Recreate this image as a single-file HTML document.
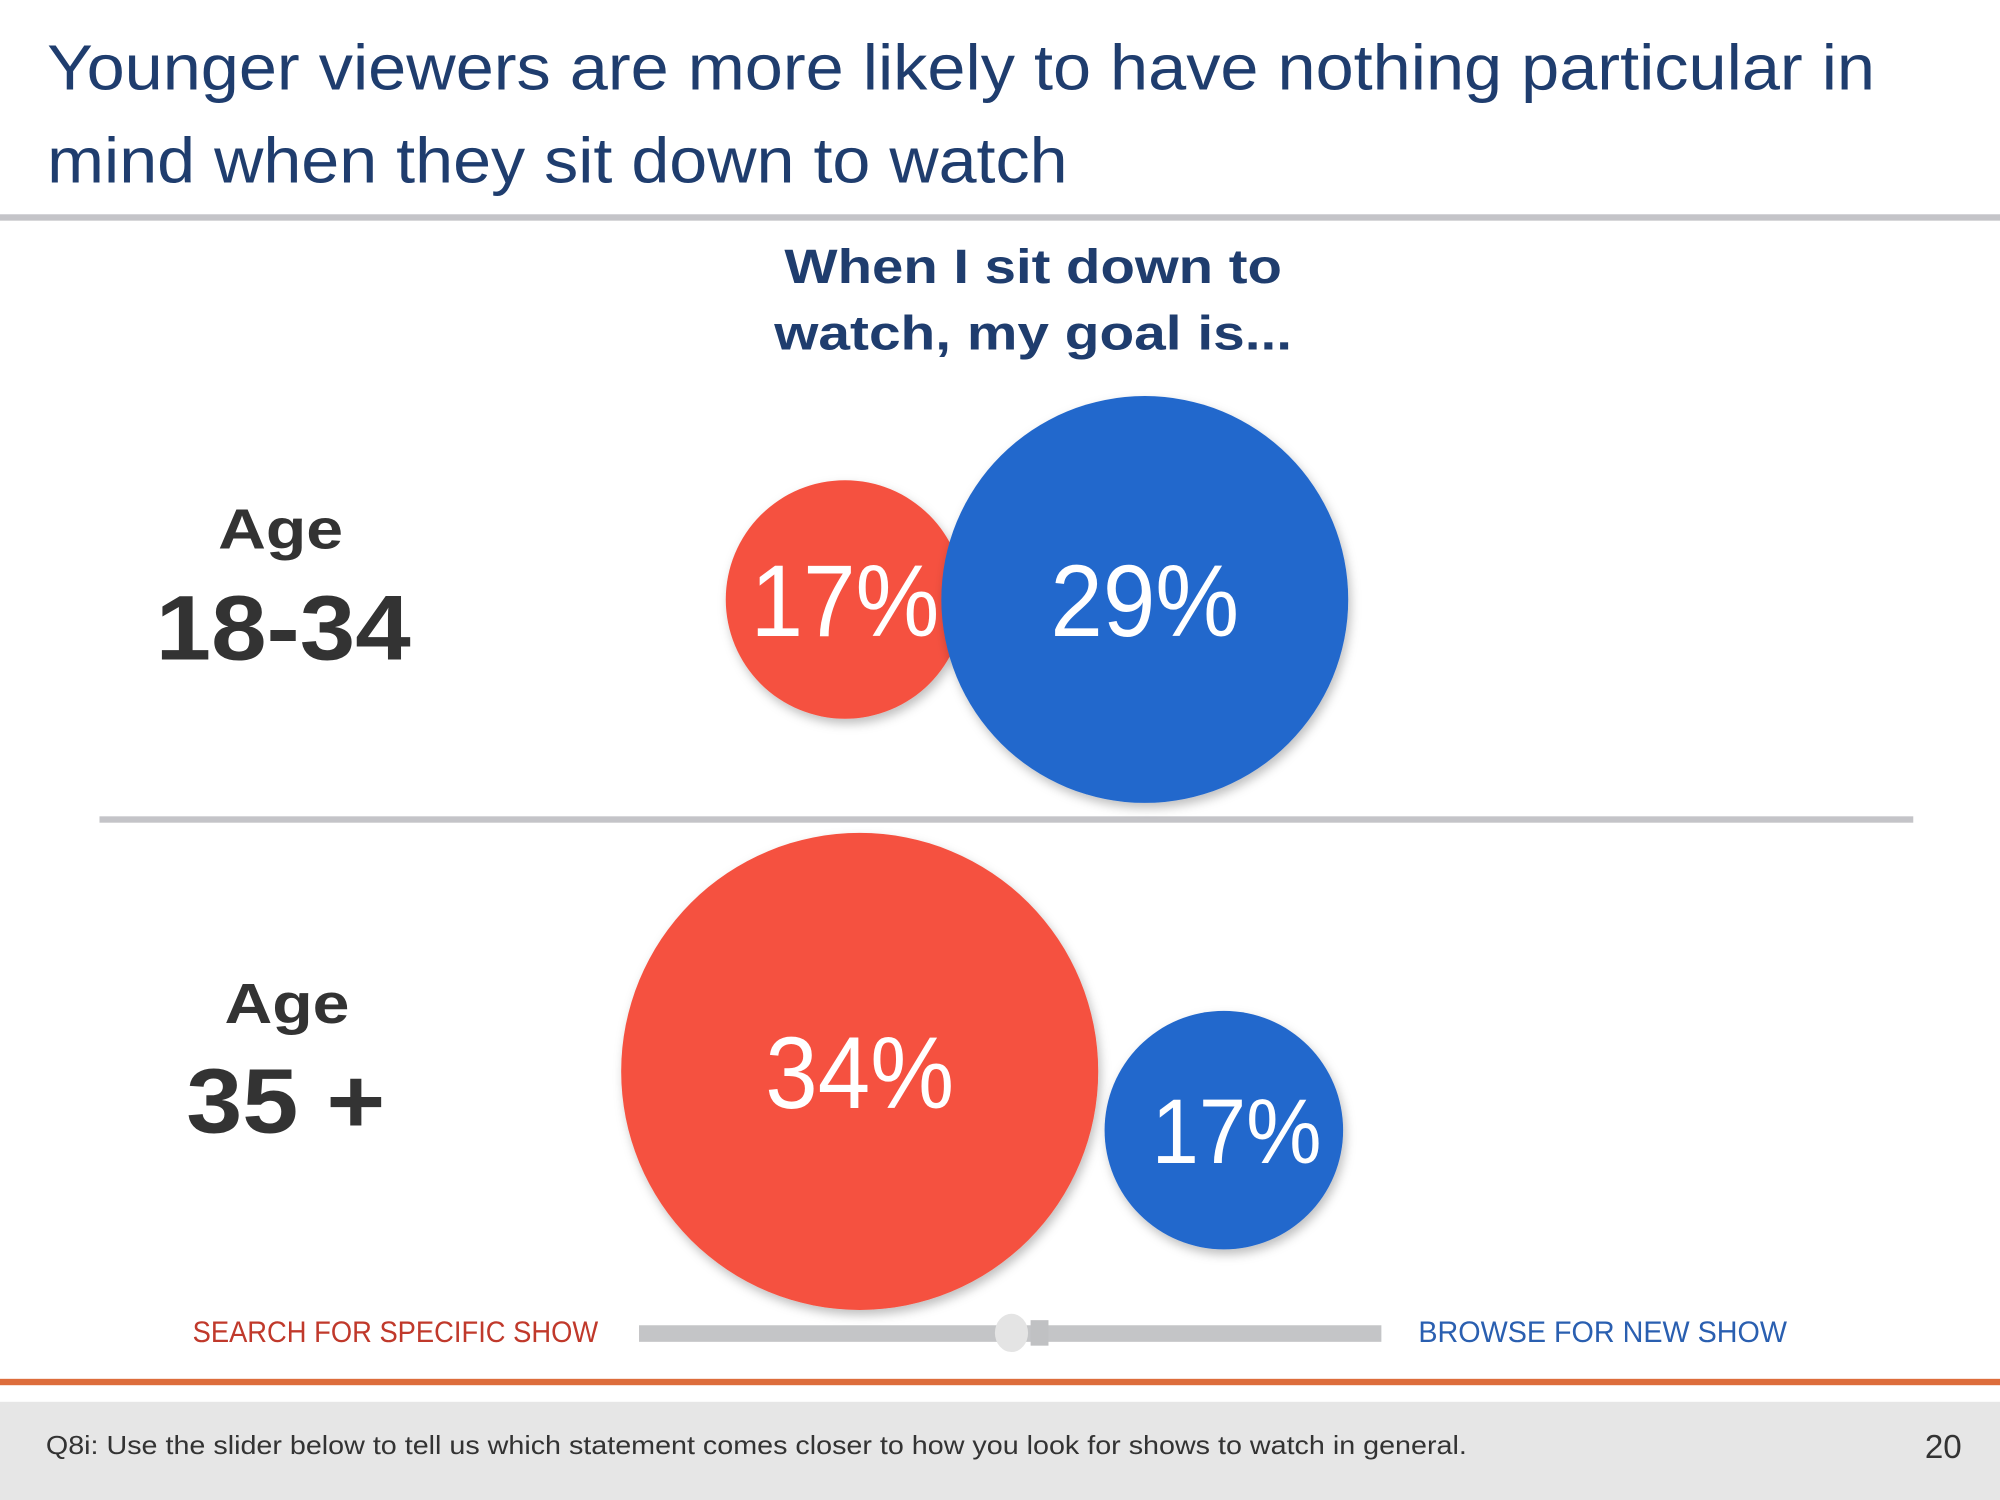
<!DOCTYPE html>
<html><head><meta charset="utf-8"><style>
html,body{margin:0;padding:0;background:#fff;width:2000px;height:1500px;overflow:hidden}
svg{display:block}
</style></head><body>
<svg id="chart" width="2000" height="1500" viewBox="0 0 1568 1176" xmlns="http://www.w3.org/2000/svg" font-family="Liberation Sans, sans-serif">
<defs>
<filter id="sh" x="-20%" y="-20%" width="140%" height="140%"><feDropShadow dx="2" dy="4" stdDeviation="4" flood-color="#000" flood-opacity="0.25"/></filter>
</defs>
<text x="37" y="70" font-size="50" fill="#1f3d6e" textLength="1433" lengthAdjust="spacingAndGlyphs">Younger viewers are more likely to have nothing particular in</text>
<text x="37" y="143" font-size="50" fill="#1f3d6e" textLength="800" lengthAdjust="spacingAndGlyphs">mind when they sit down to watch</text>
<rect x="0" y="168" width="1568" height="5" fill="#c4c4c8"/>
<text x="810" y="222" font-size="38" font-weight="bold" fill="#1f3d6e" text-anchor="middle" textLength="390" lengthAdjust="spacingAndGlyphs">When I sit down to</text>
<text x="810" y="274" font-size="38" font-weight="bold" fill="#1f3d6e" text-anchor="middle" textLength="406" lengthAdjust="spacingAndGlyphs">watch, my goal is...</text>
<text x="220" y="430" font-size="44" font-weight="bold" fill="#333" text-anchor="middle" textLength="98" lengthAdjust="spacingAndGlyphs">Age</text>
<text x="222" y="517" font-size="72" font-weight="bold" fill="#333" text-anchor="middle" textLength="200" lengthAdjust="spacingAndGlyphs">18-34</text>
<rect x="78" y="640" width="1422" height="5" fill="#c4c4c8"/>
<text x="225" y="802" font-size="44" font-weight="bold" fill="#333" text-anchor="middle" textLength="98" lengthAdjust="spacingAndGlyphs">Age</text>
<text x="224" y="888" font-size="72" font-weight="bold" fill="#333" text-anchor="middle" textLength="156" lengthAdjust="spacingAndGlyphs">35 +</text>
<g id="bubbles"></g>
<text x="151" y="1052" font-size="23" fill="#c0392b" textLength="318" lengthAdjust="spacingAndGlyphs">SEARCH FOR SPECIFIC SHOW</text>
<rect x="501" y="1039" width="582" height="13" fill="#c4c5c7"/>
<rect x="808" y="1035" width="14" height="20" fill="#c0c1c3"/>
<ellipse cx="793" cy="1045" rx="13" ry="15" fill="#e4e4e4"/>
<text x="1112" y="1052" font-size="23" fill="#2a5fb0" textLength="289" lengthAdjust="spacingAndGlyphs">BROWSE FOR NEW SHOW</text>
<rect x="0" y="1081" width="1568" height="5" fill="#dd6d3c"/>
<rect x="0" y="1099" width="1568" height="77" fill="#e6e6e6"/>
<text x="36" y="1140" font-size="20" fill="#333" textLength="1114" lengthAdjust="spacingAndGlyphs">Q8i: Use the slider below to tell us which statement comes closer to how you look for shows to watch in general.</text>
<text x="1538" y="1143" font-size="26" fill="#333" text-anchor="end">20</text>
</svg>
<script>
const groups = ["18-34", "35+"];
const searchValues = [17, 34];
const browseValues = [29, 17];
const NS = "http://www.w3.org/2000/svg";
const rScale = v => v * 5.5;
const rowCy = [470, 840];
const orangeLeft = [569, 487];
const gapByRow = [-18, 5];
const blueDy = [0, 46];
const g = document.getElementById('bubbles');
function bubble(cx, cy, r, fill, label, fs, tdx, name) {
  const c = document.createElementNS(NS, 'circle');
  c.setAttribute('cx', cx); c.setAttribute('cy', cy); c.setAttribute('r', r);
  c.setAttribute('fill', fill); c.setAttribute('filter', 'url(#sh)');
  
  
  g.appendChild(c);
  const t = document.createElementNS(NS, 'text');
  t.setAttribute('x', cx + tdx); t.setAttribute('y', cy + fs * 0.36);
  t.setAttribute('text-anchor', 'middle'); t.setAttribute('font-size', fs);
  t.setAttribute('textLength', fs * 1.85);
  t.setAttribute('lengthAdjust', 'spacingAndGlyphs');
  t.setAttribute('fill', '#fff');
  t.textContent = label;
  
  
  g.appendChild(t);
}
groups.forEach((grp, i) => {
  const ro = rScale(searchValues[i]);
  const rb = rScale(browseValues[i]);
  const ocx = orangeLeft[i] + ro;
  const bcx = ocx + ro + gapByRow[i] + rb;
  bubble(ocx, rowCy[i], ro, '#f5513f', searchValues[i] + '%', 80, 0, 'search-bubble-' + grp);
  bubble(bcx, rowCy[i] + blueDy[i], rb, '#2468cc', browseValues[i] + '%', i === 1 ? 72 : 80, i === 1 ? 10 : 0, 'browse-bubble-' + grp);
});
</script>
</body></html>
